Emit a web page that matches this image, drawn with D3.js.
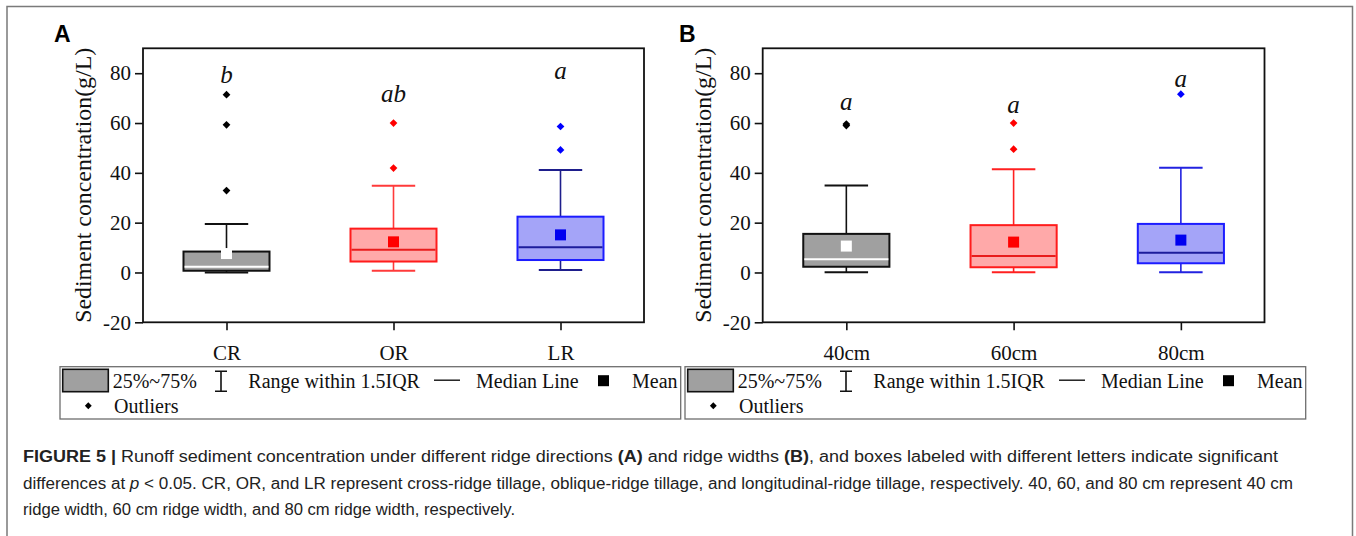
<!DOCTYPE html>
<html>
<head>
<meta charset="utf-8">
<script src="https://cdn.jsdelivr.net/npm/d3@7"></script>
<style>
  body { margin: 0; background: #fff; }
  svg { display: block; }
</style>
</head>
<body>
<svg id="fig" width="1356" height="536"></svg>
<script>
// ---- Panel A: ridge direction ----
const directionCats = ["CR", "OR", "LR"];
const directionQ1 = [0.7, 4.4, 5.0];
const directionQ3 = [8.4, 17.6, 22.4];
const directionMedian = [2.3, 9.1, 10.1];
const directionMean = [7.6, 12.3, 15.1];
const directionLow = [0.0, 0.7, 1.0];
const directionHigh = [19.5, 34.8, 41.1];
const directionOutliers = [[71.4, 59.3, 32.9], [60.0, 41.9], [58.6, 49.2]];
const directionLetters = ["b", "ab", "a"];
const directionLetterAt = [75.9, 68.6, 77.6];

// ---- Panel B: ridge width ----
const widthCats = ["40cm", "60cm", "80cm"];
const widthQ1 = [2.3, 2.1, 3.7];
const widthQ3 = [15.5, 19.0, 19.5];
const widthMedian = [5.3, 6.6, 7.9];
const widthMean = [10.6, 12.2, 13.0];
const widthLow = [0.1, 0.1, 0.1];
const widthHigh = [34.9, 41.4, 42.0];
const widthOutliers = [[59.6, 59.0], [60.0, 49.5], [71.6]];
const widthLetters = ["a", "a", "a"];
const widthLetterAt = [65.2, 64.2, 74.3];

const yTicks = [-20, 0, 20, 40, 60, 80];
const yTickLabels = ["-20", "0", "20", "40", "60", "80"];
const yDomain = [-20, 90];
const yTitle = "Sediment concentration(g/L)";

const legendItems = ["25%~75%", "Range within 1.5IQR", "Median Line", "Mean", "Outliers"];

const captionLines = [
  [["b", "FIGURE 5 | "], ["n", "Runoff sediment concentration under different ridge directions "], ["b", "(A)"], ["n", " and ridge widths "], ["b", "(B)"], ["n", ", and boxes labeled with different letters indicate significant"]],
  [["n", "differences at "], ["i", "p"], ["n", " < 0.05. CR, OR, and LR represent cross-ridge tillage, oblique-ridge tillage, and longitudinal-ridge tillage, respectively. 40, 60, and 80 cm represent 40 cm"]],
  [["n", "ridge width, 60 cm ridge width, and 80 cm ridge width, respectively."]]
];

// ---- styling ----
const serif = "'Liberation Serif', 'Times New Roman', serif";
const sans = "'Liberation Sans', Arial, sans-serif";
const fills = ["#a0a0a0", "#ffa9a9", "#a4a4f8"];
const edges = ["#111111", "#ff1c1c", "#1c1cff"];
const medianColors = ["#ffffff", "#e81c1c", "#1c1c9c"];
const meanColors = ["#ffffff", "#ff0000", "#0000f0"];
const outlierColors = ["#000000", "#ff0000", "#0000ff"];

const svg = d3.select("#fig");

// outer figure frame
svg.append("path")
  .attr("d", "M7,540 V6.5 H1352.5 V540")
  .attr("fill", "none").attr("stroke", "#7a7a7a").attr("stroke-width", 1.5);

function drawPanel(opt) {
  const W = opt.x1 - opt.x0, top = 48.3, bottom = 322.3;
  const g = svg.append("g").attr("transform", `translate(${opt.x0},0)`);

  const x = d3.scalePoint().domain(opt.cats).range([0, W]).padding(0.5);
  const y = d3.scaleLinear().domain(yDomain).range([bottom, top]);
  const step = x.step();
  const bw = step * 0.515, cw = step * 0.26;

  // axes
  const ya = g.append("g")
    .call(d3.axisLeft(y).tickValues(yTicks).tickSize(8).tickPadding(4)
      .tickFormat(d => yTickLabels[yTicks.indexOf(d)]));
  const xa = g.append("g").attr("transform", `translate(0,${bottom})`)
    .call(d3.axisBottom(x).tickSize(8).tickPadding(15));
  [ya, xa].forEach(a => {
    a.attr("font-family", serif).attr("font-size", 21);
    a.select(".domain").remove();
    a.selectAll(".tick line").attr("stroke", "#111").attr("stroke-width", 1.6);
    a.selectAll("text").attr("fill", "#111").style("font-family", serif).style("font-size", "21px");
  });

  // frame
  g.append("rect").attr("x", 0).attr("y", top).attr("width", W).attr("height", bottom - top)
    .attr("fill", "none").attr("stroke", "#111").attr("stroke-width", 1.8);

  // y title
  g.append("text")
    .attr("transform", `translate(${-52},${(top + bottom) / 2}) rotate(-90)`)
    .attr("text-anchor", "middle")
    .attr("textLength", 275).attr("lengthAdjust", "spacingAndGlyphs")
    .style("font-family", serif).style("font-size", "24px").attr("fill", "#111")
    .text(yTitle);

  // panel letter
  svg.append("text").attr("x", opt.letterX).attr("y", 41.7)
    .style("font-family", sans).style("font-weight", "bold").style("font-size", "23px")
    .attr("fill", "#000").text(opt.panel);

  opt.cats.forEach((c, i) => {
    const cx = x(c);
    const wc = opt.whisker[i];
    const bx = g.append("g");
    // whiskers
    bx.append("line").attr("x1", cx).attr("x2", cx).attr("y1", y(opt.high[i])).attr("y2", y(opt.q3[i]))
      .attr("stroke", wc).attr("stroke-width", 1.6);
    bx.append("line").attr("x1", cx).attr("x2", cx).attr("y1", y(opt.q1[i])).attr("y2", y(opt.low[i]))
      .attr("stroke", wc).attr("stroke-width", 1.6);
    [opt.high[i], opt.low[i]].forEach(v => {
      bx.append("line").attr("x1", cx - cw / 2).attr("x2", cx + cw / 2).attr("y1", y(v)).attr("y2", y(v))
        .attr("stroke", wc).attr("stroke-width", 2);
    });
    // box
    bx.append("rect").attr("x", cx - bw / 2).attr("y", y(opt.q3[i]))
      .attr("width", bw).attr("height", y(opt.q1[i]) - y(opt.q3[i]))
      .attr("fill", fills[i]).attr("stroke", edges[i]).attr("stroke-width", 2);
    // median
    bx.append("line").attr("x1", cx - bw / 2 + 1).attr("x2", cx + bw / 2 - 1)
      .attr("y1", y(opt.median[i])).attr("y2", y(opt.median[i]))
      .attr("stroke", medianColors[i]).attr("stroke-width", 2);
    // mean
    const ms = 11;
    bx.append("rect").attr("x", cx - ms / 2).attr("y", y(opt.mean[i]) - ms / 2)
      .attr("width", ms).attr("height", ms).attr("fill", meanColors[i]);
    // outliers
    bx.selectAll(".out").data(opt.outliers[i]).join("path")
      .attr("class", "out")
      .attr("d", d3.symbol(d3.symbolDiamond2, 38))
      .attr("transform", v => `translate(${cx},${y(v)})`)
      .attr("fill", outlierColors[i]);
    // significance letter
    g.append("text").attr("x", cx).attr("y", y(opt.letterAt[i]))
      .attr("text-anchor", "middle")
      .style("font-family", serif).style("font-style", "italic").style("font-size", "25px")
      .attr("fill", "#111").text(opt.letters[i]);
  });

  // legend
  const L = svg.append("g").attr("transform", `translate(${opt.legendX},366.7)`);
  L.append("rect").attr("x", 0).attr("y", 0).attr("width", 620.7).attr("height", 52.3)
    .attr("fill", "#fff").attr("stroke", "#6e6e6e").attr("stroke-width", 1.3);
  L.append("rect").attr("x", 2.7).attr("y", 2.6).attr("width", 45.6).attr("height", 22.4)
    .attr("fill", "#a0a0a0").attr("stroke", "#111").attr("stroke-width", 1.6);
  const ix = 161;
  L.append("path").attr("d", `M${ix - 6},4.5 H${ix + 6} M${ix},4.5 V24.5 M${ix - 6},24.5 H${ix + 6}`)
    .attr("fill", "none").attr("stroke", "#111").attr("stroke-width", 1.6);
  L.append("line").attr("x1", 374).attr("x2", 400).attr("y1", 13.5).attr("y2", 13.5)
    .attr("stroke", "#111").attr("stroke-width", 1.4);
  L.append("rect").attr("x", 538).attr("y", 8.5).attr("width", 11).attr("height", 11).attr("fill", "#000");
  L.append("path").attr("d", d3.symbol(d3.symbolDiamond2, 30)).attr("transform", "translate(28.3,39)").attr("fill", "#000");
  const lt = [[52.7, 21.5], [188.3, 21.5], [416, 21.5], [572, 21.5], [54, 46]];
  legendItems.forEach((t, k) => {
    L.append("text").attr("x", lt[k][0]).attr("y", lt[k][1])
      .style("font-family", serif).style("font-size", "20px").attr("fill", "#111").text(t);
  });
}

const whiskA = ["#111111", "#ff3a3a", "#1e1e8c"];
const whiskB = ["#111111", "#ff2020", "#2222e0"];

drawPanel({
  panel: "A", letterX: 54, x0: 143, x1: 644, legendX: 60,
  cats: directionCats, q1: directionQ1, q3: directionQ3, median: directionMedian, mean: directionMean,
  low: directionLow, high: directionHigh, outliers: directionOutliers,
  letters: directionLetters, letterAt: directionLetterAt, whisker: whiskA
});
drawPanel({
  panel: "B", letterX: 679, x0: 762.7, x1: 1264.5, legendX: 685,
  cats: widthCats, q1: widthQ1, q3: widthQ3, median: widthMedian, mean: widthMean,
  low: widthLow, high: widthHigh, outliers: widthOutliers,
  letters: widthLetters, letterAt: widthLetterAt, whisker: whiskB
});

// caption
const capEnds = [1278, 1293, 515];
const capBase = [462, 488.5, 515];
captionLines.forEach((line, k) => {
  const t = svg.append("text").attr("x", 23).attr("y", capBase[k])
    .attr("textLength", capEnds[k] - 23).attr("lengthAdjust", "spacingAndGlyphs")
    .style("font-family", sans).style("font-size", "16px").attr("fill", "#222");
  line.forEach(([s, str]) => {
    const sp = t.append("tspan").text(str);
    if (s === "b") sp.style("font-weight", "bold");
    if (s === "i") sp.style("font-style", "italic");
  });
});
</script>
</body>
</html>
